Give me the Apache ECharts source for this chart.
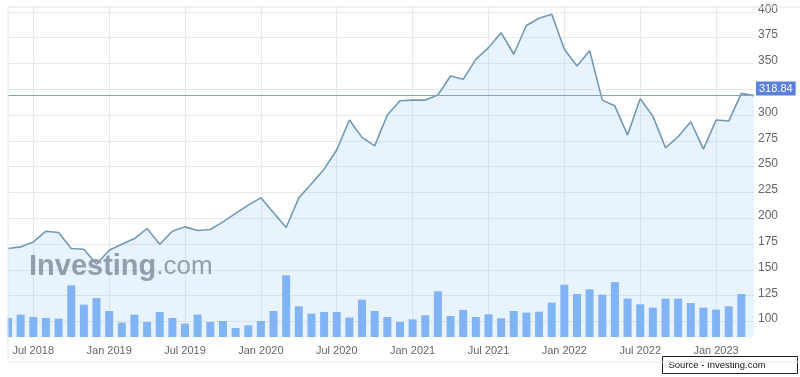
<!DOCTYPE html>
<html>
<head>
<meta charset="utf-8">
<script src="https://cdn.jsdelivr.net/npm/echarts@6/dist/echarts.min.js"></script>
<style>
html,body{margin:0;padding:0;background:#fff;}
#chart{width:800px;height:377px;}
</style>
</head>
<body>
<div id="chart"></div>
<script>
const categories = [
  'May 2018','Jun 2018','Jul 2018','Aug 2018','Sep 2018','Oct 2018','Nov 2018','Dec 2018',
  'Jan 2019','Feb 2019','Mar 2019','Apr 2019','May 2019','Jun 2019','Jul 2019','Aug 2019',
  'Sep 2019','Oct 2019','Nov 2019','Dec 2019','Jan 2020','Feb 2020','Mar 2020','Apr 2020',
  'May 2020','Jun 2020','Jul 2020','Aug 2020','Sep 2020','Oct 2020','Nov 2020','Dec 2020',
  'Jan 2021','Feb 2021','Mar 2021','Apr 2021','May 2021','Jun 2021','Jul 2021','Aug 2021',
  'Sep 2021','Oct 2021','Nov 2021','Dec 2021','Jan 2022','Feb 2022','Mar 2022','Apr 2022',
  'May 2022','Jun 2022','Jul 2022','Aug 2022','Sep 2022','Oct 2022','Nov 2022','Dec 2022',
  'Jan 2023','Feb 2023','Mar 2023','Apr 2023'
];
const prices = [
  170.7, 172.3, 177.1, 187.5, 186.2, 170.7, 170.0, 155.5,
  169.1, 174.9, 180.4, 190.1, 174.9, 187.5, 191.7, 188.2,
  189.1, 196.5, 204.7, 212.7, 219.8, 205.4, 191.1, 219.8,
  233.4, 247.6, 266.1, 295.2, 278.4, 270.2, 300.0, 313.9,
  314.5, 314.5, 319.4, 337.8, 334.6, 354.0, 365.3, 379.8,
  358.9, 386.8, 393.8, 397.7, 363.7, 347.5, 362.4, 314.5,
  308.7, 280.6, 315.8, 299.0, 268.3, 279.0, 293.5, 267.0,
  295.2, 294.2, 321.0, 318.84
];
const volumes = [
  19.0, 22.4, 20.0, 19.0, 18.4, 51.7, 32.4, 39.0,
  26.0, 14.4, 22.4, 15.0, 25.0, 19.0, 13.4, 22.4,
  15.0, 16.0, 9.0, 11.7, 16.0, 26.0, 61.7, 30.7,
  23.4, 25.0, 25.0, 19.4, 37.4, 26.0, 20.0, 15.0,
  17.7, 21.7, 45.7, 21.0, 27.0, 20.0, 22.7, 18.7,
  26.0, 24.4, 25.4, 34.4, 52.4, 43.0, 47.7, 42.4,
  55.0, 38.4, 32.7, 29.4, 38.4, 38.4, 34.0, 29.4,
  27.4, 30.7, 43.0, null
];
const yTicks = [100, 125, 150, 175, 200, 225, 250, 275, 300, 325, 350, 375, 400];
const lastPrice = 318.84;
const labelMonths = ['Jan', 'Jul'];

const chart = echarts.init(document.getElementById('chart'), null, {renderer: 'canvas'});
const isLabelMonth = (idx) => labelMonths.indexOf(categories[idx].slice(0, 3)) >= 0;

chart.setOption({
  animation: false,
  backgroundColor: '#fff',
  grid: {left: 8, right: 46, top: 7.3, bottom: 40, containLabel: false},
  xAxis: {
    type: 'category',
    data: categories,
    boundaryGap: false,
    axisLine: {show: false},
    axisTick: {show: false},
    axisLabel: {
      interval: (idx) => isLabelMonth(idx),
      color: '#666',
      fontSize: 11,
      fontFamily: 'Liberation Sans, Arial, sans-serif',
      margin: 8
    },
    splitLine: {
      show: true,
      interval: (idx) => isLabelMonth(idx),
      lineStyle: {color: '#e9e9e9', width: 1}
    }
  },
  yAxis: [{
    type: 'value',
    position: 'right',
    min: 85,
    max: 404.4,
    axisLine: {show: false},
    axisTick: {show: false, customValues: yTicks},
    axisLabel: {
      customValues: yTicks,
      formatter: (v) => (Math.abs(v - lastPrice) < 12 ? '' : String(v)),
      color: '#666',
      fontSize: 12,
      fontFamily: 'Liberation Sans, Arial, sans-serif',
      margin: 4,
      verticalAlign: 'bottom',
      lineHeight: 5
    },
    splitLine: {show: true, lineStyle: {color: '#e9e9e9', width: 1}}
  }, {
    type: 'value',
    min: 0,
    max: 330,
    show: false,
    splitLine: {show: false}
  }],
  graphic: [{
    type: 'rect',
    shape: {x: 0, y: 260, width: 7.5, height: 80},
    style: {fill: '#fff'},
    silent: true,
    z: 20
  }, {
    type: 'rect',
    shape: {x: 8, y: 7, width: 800, height: 355},
    style: {fill: 'none', stroke: '#e6e6e6', lineWidth: 1},
    silent: true,
    z: 21
  }, {
    type: 'text',
    left: 29,
    top: 252,
    z: 5,
    silent: true,
    style: {
      text: '{a|Investing}{b|.com}',
      rich: {
        a: {fontSize: 29, fontWeight: 'bold', fontFamily: 'Liberation Sans, Arial, sans-serif', fill: 'rgba(138,148,162,0.9)'},
        b: {fontSize: 26, fontWeight: 'normal', fontFamily: 'Liberation Sans, Arial, sans-serif', fill: 'rgba(138,148,162,0.9)'}
      }
    }
  }, {
    type: 'group',
    left: 662,
    top: 356,
    z: 30,
    children: [{
      type: 'rect',
      shape: {x: 0, y: 0, width: 135, height: 17},
      style: {fill: '#fff', stroke: '#222', lineWidth: 1}
    }, {
      type: 'text',
      x: 6,
      y: 8.5,
      style: {
        text: 'Source - Investing.com',
        fontSize: 9.5,
        fontFamily: 'Liberation Sans Narrow, Liberation Sans, Arial, sans-serif',
        fill: '#111',
        verticalAlign: 'middle'
      }
    }]
  }],
  series: [{
    type: 'line',
    yAxisIndex: 0,
    data: prices,
    symbol: 'none',
    z: 2,
    lineStyle: {color: '#7199b6', width: 1.6},
    areaStyle: {color: 'rgba(150,200,245,0.3)', origin: 'start'},
    markLine: {
      silent: true,
      symbol: ['none', 'none'],
      lineStyle: {color: '#8aa2b6', width: 1.2, type: 'solid'},
      label: {
        position: 'end',
        distance: 2,
        formatter: () => lastPrice.toFixed(2),
        backgroundColor: '#5a7fdc',
        color: '#fff',
        fontSize: 11,
        fontFamily: 'Liberation Sans, Arial, sans-serif',
        padding: [2, 3, 1, 3],
        verticalAlign: 'bottom'
      },
      data: [{yAxis: lastPrice}]
    }
  }, {
    type: 'bar',
    yAxisIndex: 1,
    data: volumes,
    barWidth: 8,
    z: 3,
    itemStyle: {color: '#80b4f4'}
  }]
});
</script>
</body>
</html>
